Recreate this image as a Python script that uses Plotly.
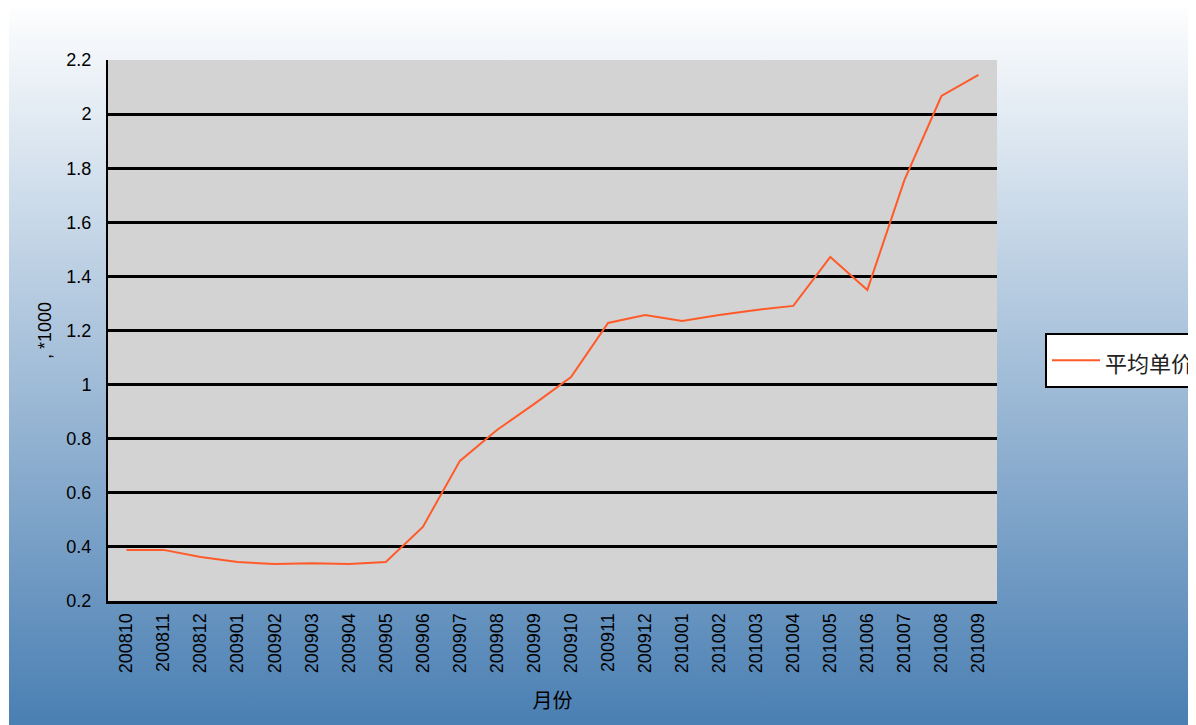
import plotly.graph_objects as go
import urllib.parse

months = ["200810", "200811", "200812", "200901", "200902", "200903", "200904", "200905",
          "200906", "200907", "200908", "200909", "200910", "200911", "200912", "201001",
          "201002", "201003", "201004", "201005", "201006", "201007", "201008", "201009"]
avg_price = [0.389, 0.389, 0.363, 0.344, 0.337, 0.340, 0.337, 0.344,
             0.474, 0.718, 0.832, 0.928, 1.028, 1.228, 1.257, 1.235,
             1.257, 1.276, 1.291, 1.472, 1.350, 1.756, 2.067, 2.145]
y_ticks = [0.2, 0.4, 0.6, 0.8, 1.0, 1.2, 1.4, 1.6, 1.8, 2.0, 2.2]
y_tick_text = ["0.2", "0.4", "0.6", "0.8", "1", "1.2", "1.4", "1.6", "1.8", "2", "2.2"]

OFF = 8  # page body margin
W, H = 1196, 725 - OFF
L, R, T, B = 108 - OFF, 997 - OFF, 60 - OFF, 601 - OFF
pw, ph = R - L, B - T

svg = ('<svg xmlns="http://www.w3.org/2000/svg" width="100" height="100" preserveAspectRatio="none">'
       '<defs><linearGradient id="g" x1="0" y1="0" x2="0" y2="1">'
       '<stop offset="0" stop-color="#ffffff"/>'
       '<stop offset="1" stop-color="#4a7fb3"/>'
       '</linearGradient></defs><rect width="100" height="100" fill="url(#g)"/></svg>')
src = "data:image/svg+xml;charset=utf-8," + urllib.parse.quote(svg)

fig = go.Figure()
fig.add_trace(go.Scatter(x=months, y=avg_price, mode="lines",
                         name="<span style='font-size:22px'>平均单价</span>",
                         line=dict(color="#ff5a28", width=2)))

img_x0 = 1
fig.add_layout_image(dict(source=src, xref="paper", yref="paper",
                          x=(img_x0 - L) / pw, y=(B + OFF) / ph,
                          sizex=(W - img_x0) / pw, sizey=(H + OFF) / ph,
                          xanchor="left", yanchor="top", sizing="stretch", layer="below"))
fig.add_shape(type="rect", xref="paper", yref="paper", x0=0, x1=1, y0=0, y1=1,
              fillcolor="#d3d3d3", line=dict(width=0), layer="below")

fig.update_layout(
    width=W, height=H,
    margin=dict(l=L, r=W - R, t=T, b=H - B, autoexpand=False),
    paper_bgcolor="white", plot_bgcolor="rgba(0,0,0,0)",
    font=dict(family="Liberation Sans, Arial", size=18, color="black"),
    showlegend=True,
    legend=dict(x=(1045 - OFF - L) / pw, y=(B - (333 - OFF)) / ph, xanchor="left", yanchor="top",
                bgcolor="white", bordercolor="black", borderwidth=2,
                font=dict(family="Noto Sans CJK SC", size=29, color="#222222"),
                itemwidth=48),
    xaxis=dict(type="category", range=[-0.5, len(months) - 0.5], tickangle=-90,
               showgrid=False, showline=True,
               linecolor="black", linewidth=3, ticks="", ticklabelstandoff=2,
               tickfont=dict(size=18),
               title=dict(text="月份", font=dict(family="Noto Sans CJK SC", size=20),
                          standoff=22)),
    yaxis=dict(range=[0.2, 2.2], tickvals=y_ticks, ticktext=y_tick_text,
               showgrid=True, gridcolor="black", gridwidth=3,
               showline=True, linecolor="black", linewidth=2, ticks="",
               ticklabelstandoff=11, zeroline=False,
               title=dict(text=", *1000", font=dict(size=18), standoff=10)),
)

fig.write_html("out.html",
               post_script="document.documentElement.style.overflow='hidden';"
                           "document.body.style.overflow='hidden';")
